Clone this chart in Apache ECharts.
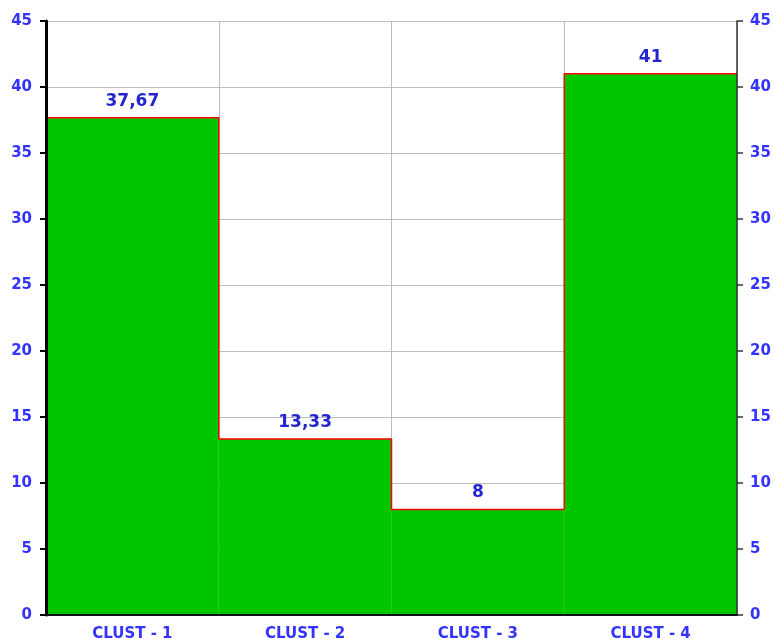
<!DOCTYPE html>
<html>
<head>
<meta charset="utf-8">
<script src="https://cdn.jsdelivr.net/npm/echarts@6/dist/echarts.min.js"></script>
<style>
  html, body { margin: 0; padding: 0; background: #fff; }
  #chart { width: 773px; height: 639px; }
</style>
</head>
<body>
<div id="chart"></div>
<script>
const categories = ["CLUST - 1", "CLUST - 2", "CLUST - 3", "CLUST - 4"];
const values = [37.67, 13.33, 8, 41];
const yTicks = { min: 0, max: 45, interval: 5 };

// step outline across the full category widths
const stepPoints = values.map((v, i) => [i, v]);
stepPoints.push([values.length, values[values.length - 1]]);

const labelBlue = "#3333ff";
const font = "DejaVu Sans";
const gridLine = { show: true, lineStyle: { color: "#bdbdbd", width: 1 } };

const chart = echarts.init(document.getElementById("chart"));
chart.setOption({
  animation: false,
  grid: { left: 46, right: 36, top: 21, bottom: 24, outerBoundsMode: "none", containLabel: false },
  xAxis: [
    {
      type: "category",
      data: categories,
      boundaryGap: true,
      axisLine: { lineStyle: { color: "#111", width: 2 } },
      axisTick: { length: 8, lineStyle: { color: "#444", width: 1.5 } },
      axisLabel: { color: labelBlue, fontFamily: font, fontWeight: "bold", fontSize: 15, margin: 12 },
      splitLine: { show: false },
      z: 5
    },
    {
      type: "value",
      min: 0,
      max: values.length,
      show: false
    },
    {
      // gridlines only, kept under the bars
      type: "category",
      data: categories,
      boundaryGap: true,
      axisLine: { show: false },
      axisTick: { show: false },
      axisLabel: { show: false },
      splitLine: gridLine,
      z: 0
    }
  ],
  yAxis: [
    {
      type: "value",
      min: yTicks.min,
      max: yTicks.max,
      interval: yTicks.interval,
      position: "left",
      axisLine: { show: true, lineStyle: { color: "#000", width: 3 } },
      axisTick: { show: true, length: 6, lineStyle: { color: "#000", width: 2 } },
      axisLabel: { color: labelBlue, fontFamily: font, fontWeight: "bold", fontSize: 15, margin: 14 },
      splitLine: { show: false },
      z: 5
    },
    {
      type: "value",
      min: yTicks.min,
      max: yTicks.max,
      interval: yTicks.interval,
      position: "right",
      axisLine: { show: true, lineStyle: { color: "#333", width: 1.5 } },
      axisTick: { show: true, length: 6, lineStyle: { color: "#333", width: 1.5 } },
      axisLabel: { color: labelBlue, fontFamily: font, fontWeight: "bold", fontSize: 15, margin: 13 },
      splitLine: { show: false },
      z: 5
    },
    {
      type: "value",
      min: yTicks.min,
      max: yTicks.max,
      interval: yTicks.interval,
      position: "left",
      axisLine: { show: false },
      axisTick: { show: false },
      axisLabel: { show: false },
      splitLine: gridLine,
      z: 0
    }
  ],
  series: [
    {
      type: "bar",
      data: values,
      barWidth: "100%",
      barGap: "0%",
      itemStyle: { color: "#00c600", borderColor: "#00c600", borderWidth: 1 },
      label: {
        show: true,
        position: "top",
        distance: 8,
        color: "#2525d0",
        fontFamily: font,
        fontWeight: "bold",
        fontSize: 17,
        formatter: p => String(p.value).replace(".", ",")
      }
    },
    {
      type: "line",
      xAxisIndex: 1,
      data: stepPoints,
      step: "end",
      symbol: "none",
      lineStyle: { color: "#ff0000", width: 1.5 },
      z: 3
    }
  ]
});
</script>
</body>
</html>
